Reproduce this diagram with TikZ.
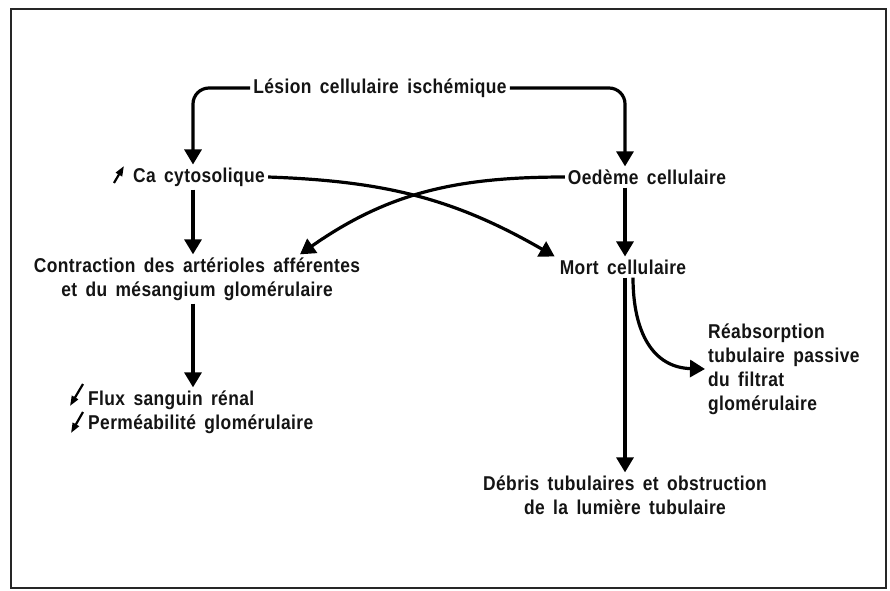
\documentclass[tikz,border=0pt]{standalone}
\usepackage{fontspec}
\setmainfont{Liberation Sans}[FakeStretch=0.87, WordSpace=1.6, LetterSpace=2]
\usetikzlibrary{arrows.meta,calc}
\begin{document}
\begin{tikzpicture}[x=1pt,y=-1pt,
  lbl/.style={font=\bfseries\fontsize{20}{24}\selectfont, text=black!92, inner sep=3pt},
  arr/.style={line width=3.2pt, -{Triangle[width=17pt,length=15pt]}},
  tiny/.style={line width=2.2pt, -{Triangle[width=7pt,length=10pt]}}]
\useasboundingbox (0,0) rectangle (890,590);
\fill[white] (0,0) rectangle (890,590);
\draw[line width=2pt, black!85] (11,9) rectangle (886,588);

\node[lbl] (lesion) at (380,88) {Lésion cellulaire ischémique};
\node[lbl] (ca) at (199,177) {Ca cytosolique};
\node[lbl] (oed) at (647,177) {Oedème cellulaire};
\node[lbl, align=center] (contr) at (197,279) {Contraction des artérioles afférentes\\et du mésangium glomérulaire};
\node[lbl] (mort) at (623,267) {Mort cellulaire};
\node[lbl, align=left, anchor=west] (flux) at (85,412) {Flux sanguin rénal\\Perméabilité glomérulaire};
\node[lbl, align=left, anchor=west] (reab) at (705,369) {Réabsorption\\tubulaire passive\\du filtrat\\glomérulaire};
\node[lbl, align=center] (debris) at (625,495) {Débris tubulaires et obstruction\\de la lumière tubulaire};

% small trend arrows
\draw[tiny] ($(ca.west)+(-16,6)$) -- ($(ca.west)+(-6,-11)$);
\draw[tiny] ($(flux.west)+(-2,-28)$) -- ($(flux.west)+(-15,-6)$);
\draw[tiny] ($(flux.west)+(-2,0)$) -- ($(flux.west)+(-14,21)$);

% anchor points for the straight connectors
\coordinate (caN) at ($(ca.north)+(-6,0)$);
\coordinate (caS) at ($(ca.south)+(-6,0)$);
\coordinate (oeN) at ($(oed.north)+(-22,0)$);
\coordinate (oeS) at ($(oed.south)+(-22,0)$);
\coordinate (coS) at ($(contr.south)+(-4,0)$);
\coordinate (moS) at ($(mort.south)+(2,0)$);
\coordinate (moS2) at ($(mort.south)+(10,0)$);

% connectors
\draw[arr, rounded corners=16pt] (lesion.west) -| (caN);
\draw[arr, rounded corners=16pt] (lesion.east) -| (oeN);
\draw[arr] (caS) -- (caS |- contr.north);
\draw[arr] (oeS) -- (oeS |- mort.north);
\draw[arr] (ca.east) to[out=-2,in=150] ($(mort.north west)+(-2,0)$);
\draw[arr] (oed.west) to[out=180,in=35] ($(contr.north)+(103,0)$);
\draw[arr] (coS) -- (coS |- flux.north);
\draw[arr] (moS) -- (moS |- debris.north);
\draw[arr] (moS2) .. controls ($(moS2)+(0,55)$) and ($(moS2)+(20,90)$) .. (reab.west);
\end{tikzpicture}
\end{document}
